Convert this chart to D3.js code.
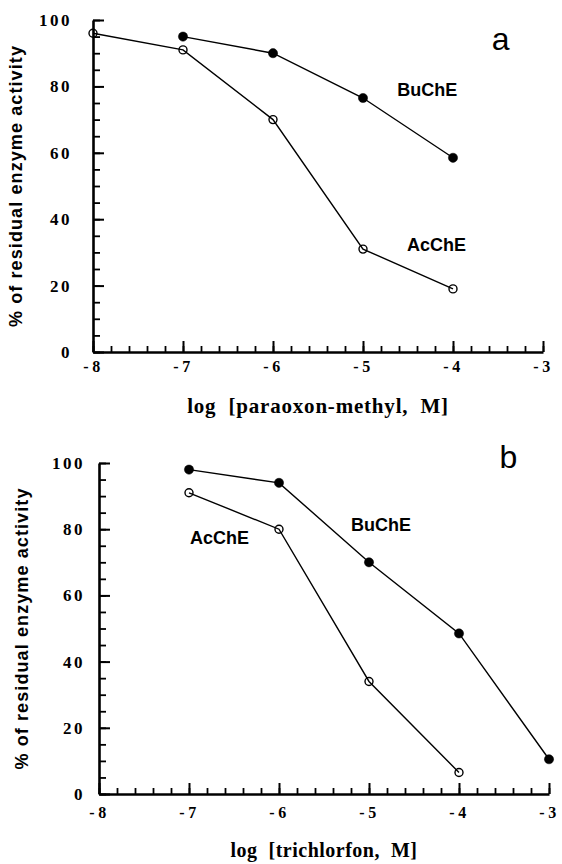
<!DOCTYPE html>
<html>
<head>
<meta charset="utf-8">
<script src="https://cdn.jsdelivr.net/npm/d3@7"></script>
<style>
  body { margin: 0; background: #fff; }
  svg { display: block; }
  .tick text { font-family: "Liberation Serif", "Times New Roman", serif; font-weight: bold; fill: #000; }
  .axis path, .axis line { stroke: #000; }
</style>
</head>
<body>
<svg id="chart" width="562" height="864"></svg>
<script>
// log molar concentration axis and percent axis
const xTickValues = [-8, -7, -6, -5, -4, -3];
const xTickLabels = ["-8", "-7", "-6", "-5", "-4", "-3"];
const yTickValues = [0, 20, 40, 60, 80, 100];
const yTickLabels = ["0", "20", "40", "60", "80", "100"];

// (a) paraoxon-methyl
const paraoxonBuChEConc = [-7, -6, -5, -4];
const paraoxonBuChE = [95, 90, 76.5, 58.5];
const paraoxonAcChEConc = [-8, -7, -6, -5, -4];
const paraoxonAcChE = [96, 91, 70, 31, 19];

// (b) trichlorfon
const trichlorfonBuChEConc = [-7, -6, -5, -4, -3];
const trichlorfonBuChE = [98, 94, 70, 48.5, 10.5];
const trichlorfonAcChEConc = [-7, -6, -5, -4];
const trichlorfonAcChE = [91, 80, 34, 6.5];

// series label anchors in data units: [logConc, percent]
const paraoxonLabels = [["BuChE", -4.62, 77], ["AcChE", -4.51, 30.5]];
const trichlorfonLabels = [["BuChE", -5.2, 79.5], ["AcChE", -6.99, 75.5]];

const panels = [
  {
    letter: "a", title: "log  [paraoxon-methyl,  M]",
    left: 93, right: 543, top: 20, bottom: 352,
    yPad: 21, xPad: 9, titleY: 413, titleSize: 21, titleLs: 0.8,
    letterPos: [-3.57, 91],
    series: [
      { conc: paraoxonBuChEConc, vals: paraoxonBuChE, filled: true },
      { conc: paraoxonAcChEConc, vals: paraoxonAcChE, filled: false }
    ],
    labels: paraoxonLabels
  },
  {
    letter: "b", title: "log  [trichlorfon,  M]",
    left: 99, right: 549, top: 463, bottom: 794,
    yPad: 14, xPad: 13, titleY: 857, titleSize: 20, titleLs: 0.5,
    letterPos: [-3.55, 98.5],
    series: [
      { conc: trichlorfonBuChEConc, vals: trichlorfonBuChE, filled: true },
      { conc: trichlorfonAcChEConc, vals: trichlorfonAcChE, filled: false }
    ],
    labels: trichlorfonLabels
  }
];

const svg = d3.select("#chart");

// minor tick positions: every 0.2 log unit and every 5 %
const xMinor = d3.range(0, 26).map(i => -8 + i * 0.2);
const yMinor = d3.range(0, 21).map(i => i * 5);

panels.forEach(p => {
  const x = d3.scaleLinear().domain([-8, -3]).range([p.left, p.right]);
  const y = d3.scaleLinear().domain([0, 100]).range([p.bottom, p.top]);
  const g = svg.append("g");

  // minor ticks (pointing into the plot)
  g.append("g").attr("class", "axis")
    .attr("transform", `translate(0,${p.bottom})`)
    .call(d3.axisBottom(x).tickValues(xMinor).tickSize(-6).tickFormat("").tickSizeOuter(0))
    .call(s => s.select(".domain").remove())
    .call(s => s.selectAll("line").attr("stroke-width", 1.8));
  g.append("g").attr("class", "axis")
    .attr("transform", `translate(${p.left},0)`)
    .call(d3.axisLeft(y).tickValues(yMinor).tickSize(-7).tickFormat("").tickSizeOuter(0))
    .call(s => s.select(".domain").remove())
    .call(s => s.selectAll("line").attr("stroke-width", 1.8));

  // major ticks with labels
  g.append("g").attr("class", "axis")
    .attr("transform", `translate(0,${p.bottom})`)
    .call(d3.axisBottom(x).tickValues(xTickValues).tickSize(-11).tickSizeOuter(0)
      .tickPadding(p.xPad).tickFormat((d, i) => xTickLabels[i]))
    .call(s => s.select(".domain").attr("stroke-width", 2.6))
    .call(s => s.selectAll("line").attr("stroke-width", 2))
    .call(s => s.selectAll("text").attr("font-size", 16).attr("letter-spacing", "3.5px"));
  g.append("g").attr("class", "axis")
    .attr("transform", `translate(${p.left},0)`)
    .call(d3.axisLeft(y).tickValues(yTickValues).tickSize(-11).tickSizeOuter(0)
      .tickPadding(p.yPad).tickFormat((d, i) => yTickLabels[i]))
    .call(s => s.select(".domain").attr("stroke-width", 2.6))
    .call(s => s.selectAll("line").attr("stroke-width", 2))
    .call(s => s.selectAll("text").attr("font-size", 17).attr("letter-spacing", "2.5px"));

  // data lines and markers
  const line = d3.line().x(d => x(d[0])).y(d => y(d[1]));
  p.series.forEach(s => {
    const pts = s.conc.map((c, i) => [c, s.vals[i]]);
    g.append("path").datum(pts).attr("d", line)
      .attr("fill", "none").attr("stroke", "#000").attr("stroke-width", 1.4);
    g.selectAll(null).data(pts).enter().append("circle")
      .attr("cx", d => x(d[0])).attr("cy", d => y(d[1]))
      .attr("r", s.filled ? 4.6 : 4)
      .attr("fill", s.filled ? "#000" : "none")
      .attr("stroke", "#000").attr("stroke-width", s.filled ? 0.5 : 1.4);
  });

  // series names
  g.selectAll(null).data(p.labels).enter().append("text")
    .attr("x", d => x(d[1])).attr("y", d => y(d[2]))
    .attr("font-family", "'Liberation Sans', Arial, sans-serif")
    .attr("font-weight", "bold").attr("font-size", 18)
    .text(d => d[0]);

  // panel letter
  g.append("text")
    .attr("x", x(p.letterPos[0])).attr("y", y(p.letterPos[1]))
    .attr("font-family", "'Liberation Sans', Arial, sans-serif")
    .attr("font-size", 32).text(p.letter);

  // axis titles
  g.append("text")
    .attr("x", (p.left + p.right) / 2).attr("y", p.titleY)
    .attr("text-anchor", "middle").style("white-space", "pre")
    .attr("font-family", "'Liberation Serif', 'Times New Roman', serif")
    .attr("font-weight", "bold").attr("font-size", p.titleSize)
    .attr("letter-spacing", p.titleLs + "px")
    .text(p.title);

  g.append("text")
    .attr("transform", `translate(${p.left - 71},${(p.top + p.bottom) / 2}) rotate(-90)`)
    .attr("text-anchor", "middle").style("white-space", "pre")
    .attr("font-family", "'Liberation Sans', Arial, sans-serif")
    .attr("font-weight", "bold").attr("font-size", 18)
    .attr("letter-spacing", "1.1px")
    .text("% of residual enzyme activity");
});
</script>
</body>
</html>
